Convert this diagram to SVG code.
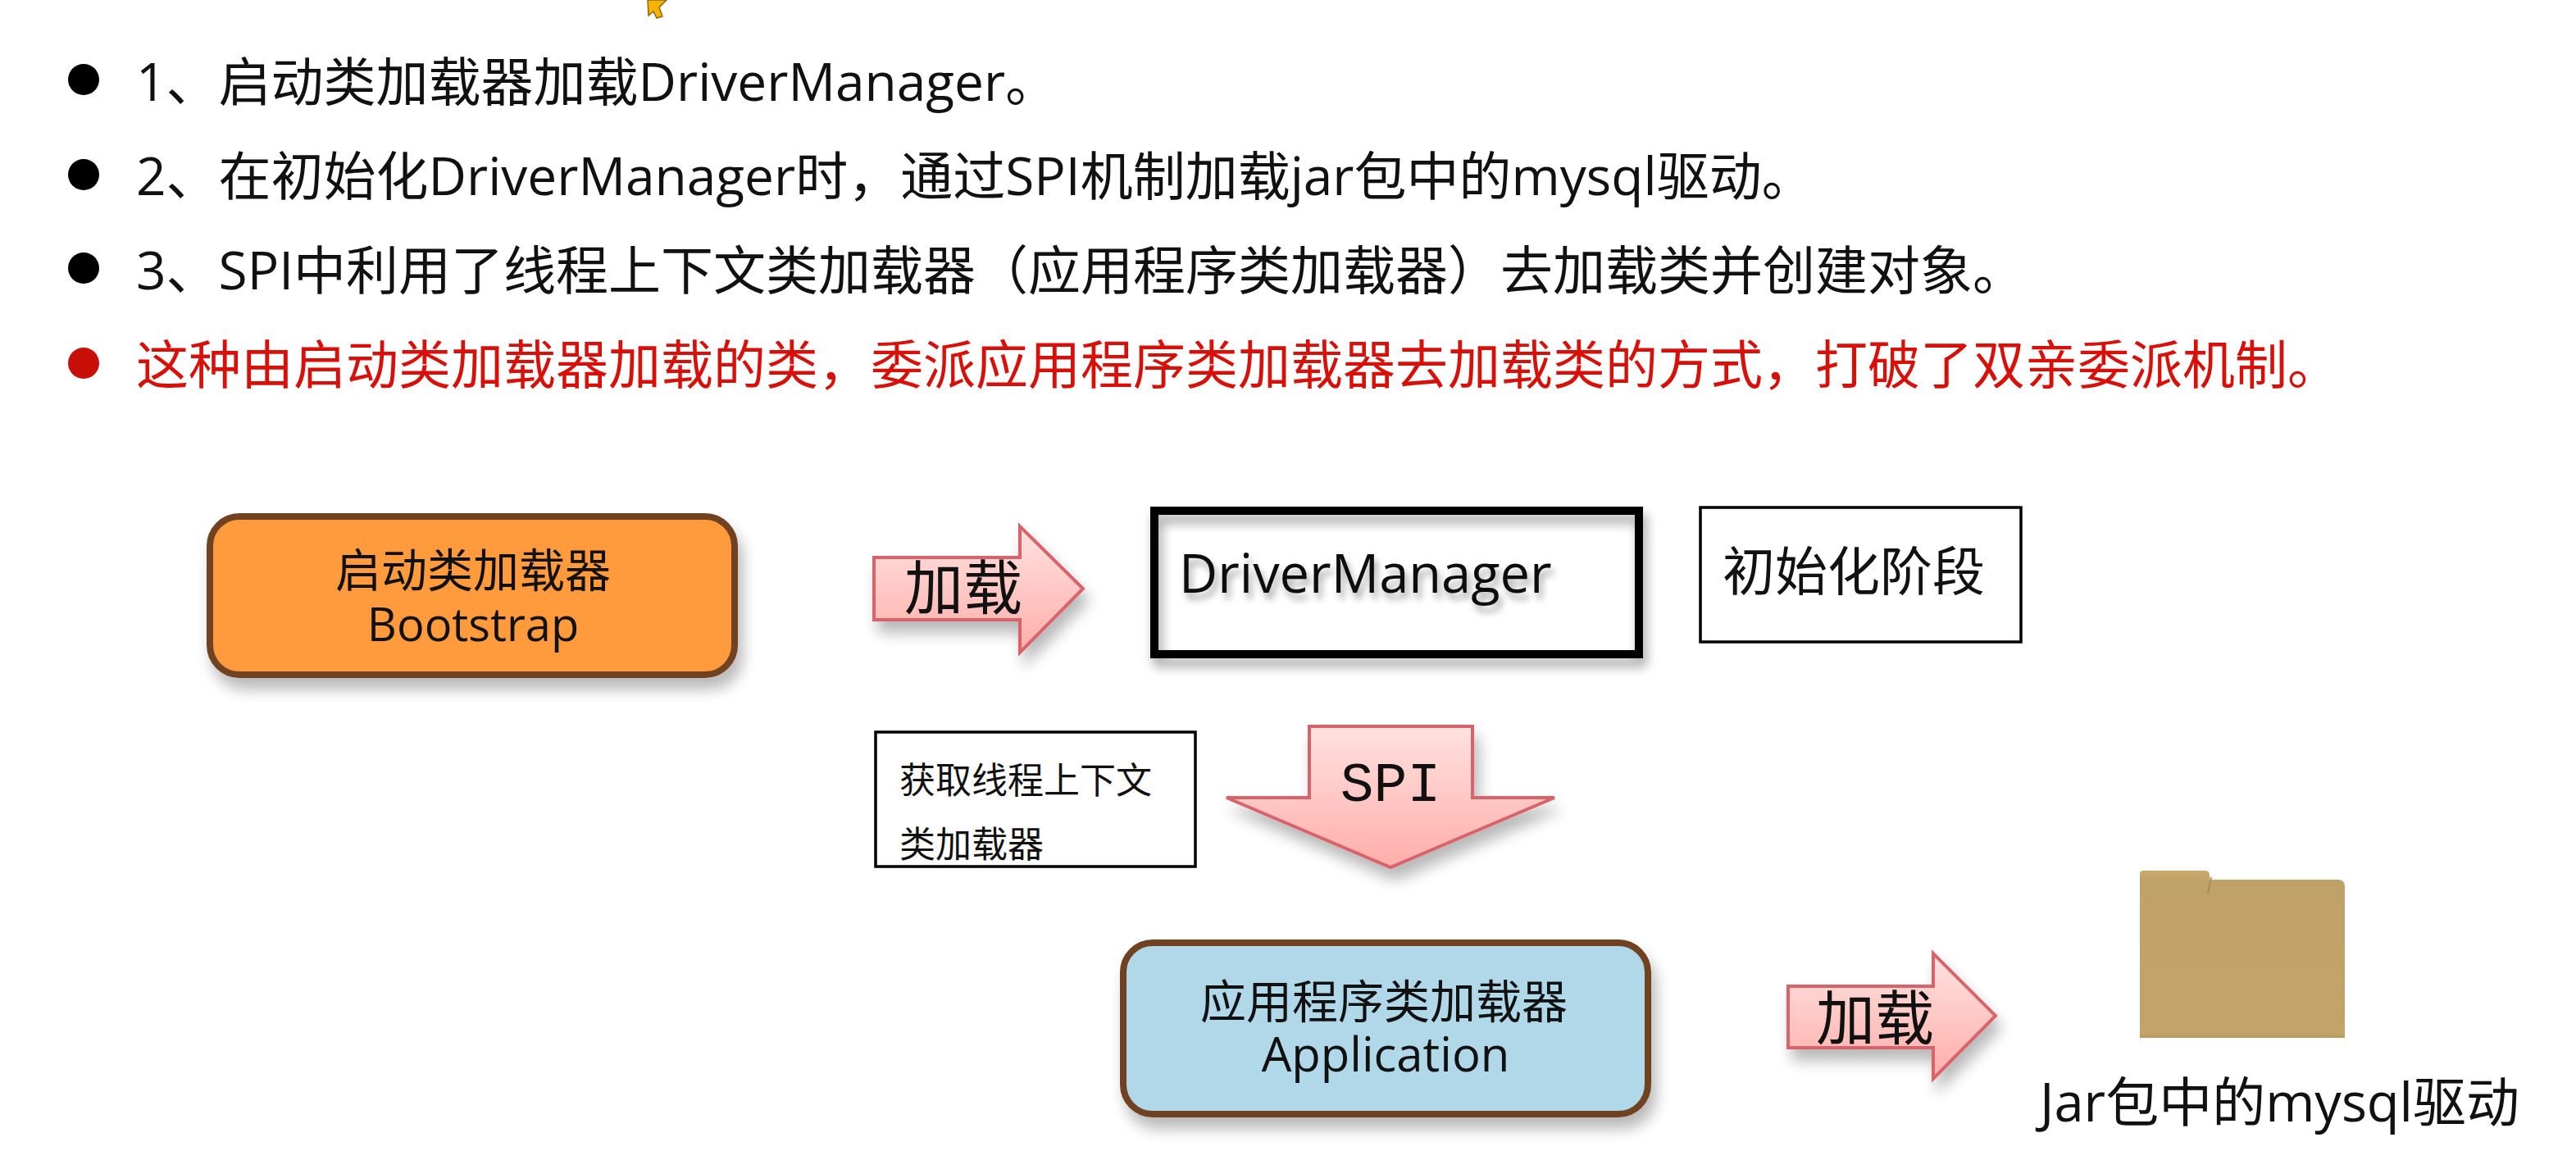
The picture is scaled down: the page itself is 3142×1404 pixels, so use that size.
<svg xmlns="http://www.w3.org/2000/svg" width="3142" height="1404" viewBox="0 0 3142 1404">
<style>
text{font-family:"Open Sans","Noto Sans CJK SC",sans-serif;fill:#111}
.l{font-size:64px}
.n{font-size:56px;text-anchor:middle}
.box{fill:#fff;stroke:#000;stroke-width:3.5}
.loader{stroke:#6f4320;stroke-width:8}
.arrow{stroke:#d9646a;stroke-width:4}
</style>
<defs>
<filter id="sh" x="-10%" y="-10%" width="125%" height="140%"><feGaussianBlur in="SourceAlpha" stdDeviation="9"/><feOffset dx="6" dy="14"/><feComponentTransfer><feFuncA type="linear" slope="0.28"/></feComponentTransfer><feMerge><feMergeNode/><feMergeNode in="SourceGraphic"/></feMerge></filter>
<filter id="ts" x="-5%" y="-20%" width="110%" height="150%"><feGaussianBlur in="SourceAlpha" stdDeviation="4"/><feOffset dx="4" dy="8"/><feComponentTransfer><feFuncA type="linear" slope="0.35"/></feComponentTransfer><feMerge><feMergeNode/><feMergeNode in="SourceGraphic"/></feMerge></filter>
<filter id="bl" x="-10%" y="-20%" width="120%" height="140%"><feGaussianBlur stdDeviation="7"/></filter>
<linearGradient id="ar" x1="0" y1="0" x2="0" y2="1"><stop offset="0" stop-color="#ffe2df"/><stop offset="1" stop-color="#ffaeaa"/></linearGradient>
<linearGradient id="fo" x1="0" y1="0" x2="0" y2="1"><stop offset="0" stop-color="#c9aa6c"/><stop offset="0.06" stop-color="#bfa268"/><stop offset="0.97" stop-color="#c2a46a"/><stop offset="1" stop-color="#b89a5e"/></linearGradient>
</defs>
<rect width="3142" height="1404" fill="#fff"/>
<g id="cursor"><path d="M790 0L813 0L804 9L808 20L801 22L797 14L791 19Z" fill="#f4b400" stroke="#8a6a10" stroke-width="1.5"/></g>
<g id="bullets">
<circle cx="102" cy="97" r="19" fill="#000"/>
<circle cx="102" cy="213" r="19" fill="#000"/>
<circle cx="102" cy="327" r="19" fill="#000"/>
<circle cx="102" cy="443" r="19" fill="#c80f07"/>
<text class="l" x="166" y="123">1、启动类加载器加载DriverManager。</text>
<text class="l" x="166" y="238">2、在初始化DriverManager时，通过SPI机制加载jar包中的mysql驱动。</text>
<text class="l" x="166" y="353">3、SPI中利用了线程上下文类加载器（应用程序类加载器）去加载类并创建对象。</text>
<text class="l" x="166" y="468" style="fill:#d8100a">这种由启动类加载器加载的类，委派应用程序类加载器去加载类的方式，打破了双亲委派机制。</text>
</g>
<g id="connectors">
<g id="arrow-load-1"><path class="arrow" filter="url(#sh)" fill="url(#ar)" d="M1066 680H1244V642L1321 718L1244 796V756H1066Z"/><text x="1103" y="743" style="font-size:72px">加载</text></g>
<g id="arrow-spi"><path class="arrow" filter="url(#sh)" fill="url(#ar)" d="M1597 886H1796V973H1896L1696 1058L1496 973H1597Z"/><text x="1696" y="977" style="font-family:'Liberation Mono',monospace;font-size:68px;text-anchor:middle">SPI</text></g>
<g id="arrow-load-2"><path class="arrow" filter="url(#sh)" fill="url(#ar)" d="M2181 1203H2358V1163L2434 1239L2358 1316V1278H2181Z"/><text x="2215" y="1268" style="font-size:72px">加载</text></g>
</g>
<g id="bootstrap"><rect class="loader" x="256" y="630" width="640" height="193" rx="36" fill="#ff9a3c" filter="url(#sh)"/><text class="n" x="577" y="716"><tspan x="577" y="716">启动类加载器</tspan><tspan x="577" y="782">Bootstrap</tspan></text></g>
<g id="driver-manager"><rect x="1408" y="623" width="591" height="175" fill="#fff"/><rect x="1412" y="633" width="591" height="175" fill="none" stroke="#000" stroke-width="10" opacity="0.38" filter="url(#bl)"/><rect x="1408" y="623" width="591" height="175" fill="none" stroke="#000" stroke-width="10"/><text x="1438" y="723" filter="url(#ts)" style="font-size:65px">DriverManager</text></g>
<g id="init-stage"><rect class="box" x="2074" y="619" width="391" height="164"/><text x="2101" y="720" style="font-size:64px">初始化阶段</text></g>
<g id="context-note"><rect class="box" x="1068" y="893" width="390" height="164"/><text x="1097" y="968" style="font-size:44px"><tspan x="1097" y="968">获取线程上下文</tspan><tspan x="1097" y="1046">类加载器</tspan></text></g>
<g id="application"><rect class="loader" x="1370" y="1150" width="640" height="209" rx="36" fill="#b0d8e8" filter="url(#sh)"/><text class="n" x="1690" y="1242"><tspan x="1688" y="1242">应用程序类加载器</tspan><tspan x="1690" y="1307" style="font-size:58px">Application</tspan></text></g>
<g id="jar"><path d="M2610 1066Q2610 1062 2614 1062H2690Q2695 1062 2695 1068V1073H2852Q2860 1073 2860 1082V1266H2610Z" fill="url(#fo)"/><path d="M2697 1070L2693 1090" stroke="#a88c55" stroke-width="2" fill="none"/><text x="2488" y="1368" style="font-size:65px">Jar包中的mysql驱动</text></g>
</svg>
